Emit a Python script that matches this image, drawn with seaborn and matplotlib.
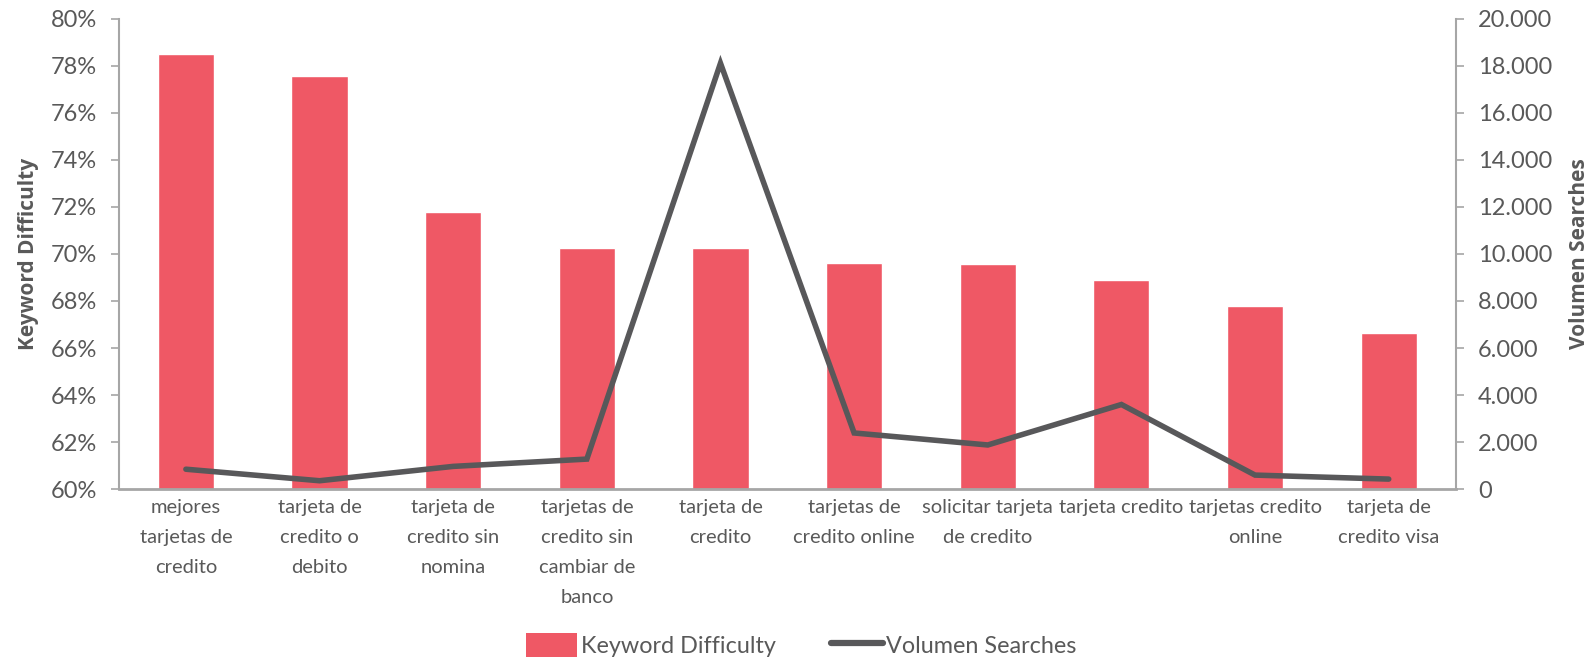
import matplotlib
matplotlib.use("Agg")
import matplotlib.pyplot as plt
import seaborn as sns
import pandas as pd
from matplotlib.ticker import FuncFormatter
from matplotlib.patches import Patch
from matplotlib.lines import Line2D

# --- Data ---
keywords = [
    "mejores\ntarjetas de\ncredito",
    "tarjeta de\ncredito o\ndebito",
    "tarjeta de\ncredito sin\nnomina",
    "tarjetas de\ncredito sin\ncambiar de\nbanco",
    "tarjeta de\ncredito",
    "tarjetas de\ncredito online",
    "solicitar tarjeta\nde credito",
    "tarjeta credito",
    "tarjetas credito\nonline",
    "tarjeta de\ncredito visa",
]
difficulty = [78.5, 77.55, 71.76, 70.23, 70.23, 69.63, 69.55, 68.88, 67.77, 66.65]
volume = [850, 360, 970, 1280, 18100, 2390, 1880, 3600, 600, 430]

BAR_COLOR = "#EF5865"
LINE_COLOR = "#58585A"
TEXT_COLOR = "#595959"
AXIS_COLOR = "#A6A6A6"

df = pd.DataFrame({"keyword": keywords, "difficulty": difficulty, "volume": volume})

sns.set_style("white")
plt.rcParams["font.family"] = ["Lato", "DejaVu Sans"]

fig = plt.figure(figsize=(15.96, 6.62), dpi=100)
ax = fig.add_axes([0.0746, 0.261, 0.8374, 0.711])

sns.barplot(data=df, x="keyword", y="difficulty", color=BAR_COLOR, width=0.42,
            saturation=1, ax=ax)
ax.set_ylim(60, 80)
ax.set_yticks(range(60, 81, 2))
ax.yaxis.set_major_formatter(FuncFormatter(lambda v, p: f"{v:.0f}%"))
ax.set_xlim(-0.5, len(keywords) - 0.5)

ax2 = ax.twinx()
sns.lineplot(x=range(len(volume)), y=volume, color=LINE_COLOR, linewidth=4,
             ax=ax2, solid_capstyle="round", solid_joinstyle="miter")
ax2.set_ylim(0, 20000)
ax2.set_yticks(range(0, 20001, 2000))
ax2.yaxis.set_major_formatter(FuncFormatter(lambda v, p: f"{int(v):,}".replace(",", ".")))

for a in (ax, ax2):
    for s in a.spines.values():
        s.set_visible(False)
    a.tick_params(axis="y", colors=TEXT_COLOR, labelsize=17, length=6, width=1.2,
                  color=AXIS_COLOR, direction="out", pad=10)
ax.spines["left"].set_visible(True)
ax.spines["left"].set_color(AXIS_COLOR)
ax.spines["left"].set_linewidth(1.5)
ax.spines["bottom"].set_visible(True)
ax.spines["bottom"].set_color(AXIS_COLOR)
ax.spines["bottom"].set_linewidth(2)
ax2.spines["right"].set_visible(True)
ax2.spines["right"].set_color(AXIS_COLOR)
ax2.spines["right"].set_linewidth(1.5)

ax.tick_params(axis="x", length=0, colors=TEXT_COLOR, labelsize=14.5, pad=7)
for lbl in ax.get_xticklabels():
    lbl.set_linespacing(1.92)
    lbl.set_va("top")

ax.set_xlabel("")
ax.set_ylabel("Keyword Difficulty", fontsize=15, fontweight="bold", color=TEXT_COLOR,
              family="Open Sans", labelpad=8)
ax2.set_ylabel("Volumen Searches", fontsize=15, fontweight="bold", color=TEXT_COLOR,
               family="Open Sans", labelpad=12)

handles = [Patch(facecolor=BAR_COLOR, edgecolor="none"),
           Line2D([0], [0], color=LINE_COLOR, linewidth=4.5)]
fig.legend(handles, ["Keyword Difficulty", "Volumen Searches"], loc="center",
           bbox_to_anchor=(0.502, 0.025), ncol=2, frameon=False, fontsize=16.8,
           labelcolor=TEXT_COLOR, handlelength=2.2, handleheight=1.2,
           handletextpad=0.15, columnspacing=2.4)

fig.savefig("out.png", dpi=100)
